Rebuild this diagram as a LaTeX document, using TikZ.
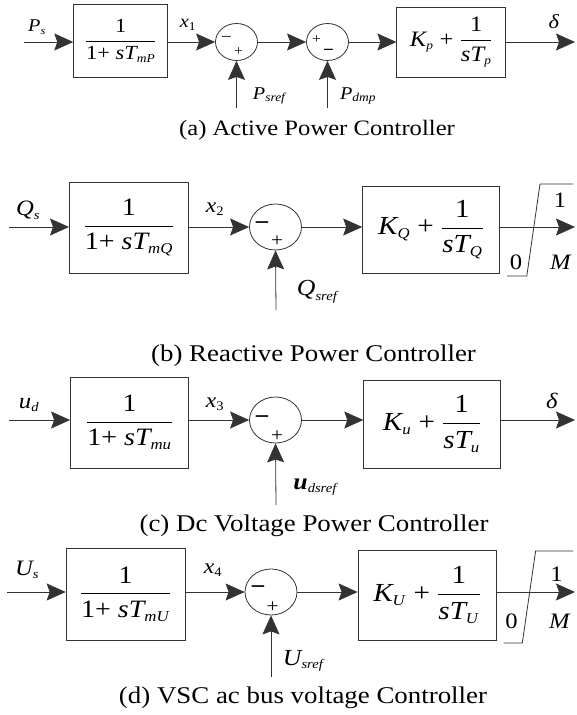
\RequirePackage{fix-cm}
\documentclass[tikz,border=0pt]{standalone}
\usepackage{amsmath}
\usepackage{fontspec}
\setmainfont{Liberation Serif}[FakeStretch=1.12]
\usetikzlibrary{arrows.meta,shapes.geometric}
\newcommand\vi[1]{\textit{#1}}
\newcommand\fs[1]{\fontsize{#1}{#1}\selectfont}
\newcommand\su[2]{_{\mbox{\fs{#1}\textit{#2}}}}
\newcommand\sn[2]{_{\mbox{\fs{#1}#2}}}
\tikzset{
  ln/.style={line width=0.8pt, draw=black!80},
  arr/.style={ln, -{Stealth[length=19pt,width=17pt,inset=3pt]}},
  blk/.style={draw=black!80, line width=0.8pt, rectangle, inner sep=0pt},
  sumc/.style={draw=black!80, line width=0.8pt, ellipse, inner sep=0pt},
  sgn/.style={inner sep=0pt},
  lbl/.style={inner sep=0pt},
}
\begin{document}
\begin{tikzpicture}[x=1pt,y=-1pt]
\useasboundingbox (0,0) rectangle (576,715);

% ---------------- (a) ----------------
\coordinate (ina) at (24,42);
\node[blk, minimum width=94pt, minimum height=73pt] (A1) at (120.7,41)
  {\fs{20}$\dfrac{\text{1}}{\text{1+ }\vi{sT}\su{12}{mP}}$};
\node[sumc, minimum width=42pt, minimum height=37pt] (S1) at (236.5,42) {};
\node[sumc, minimum width=42pt, minimum height=37pt] (S2) at (327.5,42) {};
\node[blk, minimum width=109pt, minimum height=70pt] (A2) at (451.3,42)
  {\fs{22}$\vi{K}\su{12}{p}\text{ + }\dfrac{\text{1}}{\vi{sT}\su{12}{p}}$};
\coordinate (outa) at (575,42);
\coordinate (pa) at (236.5,108);
\coordinate (pb) at (327.5,108);
\draw[arr] (ina) -- (ina -| A1.west);
\draw[arr] (ina -| A1.east) -- (S1.west);
\draw[arr] (S1.east) -- (S2.west);
\draw[arr] (S2.east) -- (S2.east -| A2.west);
\draw[arr] (A2.east |- outa) -- (outa);
\draw[arr] (pa) -- (S1.south);
\draw[arr] (pb) -- (S2.south);
\node[sgn] (S1m) at (226.5,39) {\fs{17}−};
\node[sgn] (S1p) at (238.5,52) {\fs{14}+};
\node[sgn] (S2p) at (316.5,40) {\fs{14}+};
\node[sgn] (S2m) at (328.5,52) {\fs{17}\textbf{−}};
\node[lbl] (lPs) at (37,27) {\fs{18}$\vi{P}\su{11}{s}$};
\node[lbl] (lx1) at (188,25) {\fs{18}$\vi{x}\sn{12}{1}$};
\node[lbl] (lPsref) at (270,96) {\fs{18}$\vi{P}\su{12}{sref}$};
\node[lbl] (lPdmp) at (358,96) {\fs{18}$\vi{P}\su{12}{dmp}$};
\node[lbl] (ld1) at (554,22) {\fs{20}\vi{δ}};
\node (capa) at (317,130) {\fs{22}(a) Active Power Controller};

% ---------------- (b) ----------------
\coordinate (inb) at (9,227);
\node[blk, minimum width=119pt, minimum height=91pt] (B1) at (128.9,227.5)
  {\fs{25}$\dfrac{\text{1}}{\text{1+ }\vi{sT}\su{15}{mQ}}$};
\node[sumc, minimum width=52pt, minimum height=46pt] (S3) at (275.5,227) {};
\node[blk, minimum width=136.6pt, minimum height=87pt] (B2) at (430.9,229.5)
  {\fs{26}$\vi{K}\su{15}{Q}\text{ + }\dfrac{\text{1}}{\vi{sT}\su{15}{Q}}$};
\coordinate (outb) at (575,227);
\coordinate (pc) at (276,310);
\draw[arr] (inb) -- (inb -| B1.west);
\draw[arr] (inb -| B1.east) -- (S3.west);
\draw[arr] (S3.east) -- (S3.east -| B2.west);
\draw[arr] (B2.east |- outb) -- (outb);
\draw[arr] (pc) -- (S3.south);
\draw[ln] (507,276) -- (526.8,276) -- (540,184) -- (573,184);
\node[sgn] (S3m) at (262,226) {\fs{24}\textbf{−}};
\node[sgn] (S3p) at (277,241) {\fs{19}+};
\node[lbl] (lQs) at (28,210) {\fs{22}$\vi{Q}\su{13}{s}$};
\node[lbl] (lx2) at (215,209) {\fs{21}$\vi{x}\sn{13}{2}$};
\node[lbl] (lQsref) at (318,292) {\fs{23}$\vi{Q}\su{13}{sref}$};
\node[lbl] (lb1) at (560,200) {\fs{22}1};
\node[lbl] (lb0) at (516,262) {\fs{22}0};
\node[lbl] (lbM) at (561,262) {\fs{22}\vi{M}};
\node (capb) at (313.5,356) {\fs{24}(b) Reactive Power Controller};

% ---------------- (c) ----------------
\coordinate (inc) at (9,420);
\node[blk, minimum width=118pt, minimum height=91pt] (C1) at (129.5,422.5)
  {\fs{25}$\dfrac{\text{1}}{\text{1+ }\vi{sT}\su{15}{mu}}$};
\node[sumc, minimum width=52pt, minimum height=46pt] (S4) at (275.5,420) {};
\node[blk, minimum width=136.6pt, minimum height=88pt] (C2) at (432,424)
  {\fs{26}$\vi{K}\su{15}{u}\text{ + }\dfrac{\text{1}}{\vi{sT}\su{15}{u}}$};
\coordinate (outc) at (575,420);
\coordinate (pd) at (276,505);
\draw[arr] (inc) -- (inc -| C1.west);
\draw[arr] (inc -| C1.east) -- (S4.west);
\draw[arr] (S4.east) -- (S4.east -| C2.west);
\draw[arr] (C2.east |- outc) -- (outc);
\draw[arr] (pd) -- (S4.south);
\node[sgn] (S4m) at (262,420) {\fs{24}\textbf{−}};
\node[sgn] (S4p) at (277,436) {\fs{19}+};
\node[lbl] (lud) at (29,405) {\fs{22}$\vi{u}\su{13}{d}$};
\node[lbl] (lx3) at (215,404) {\fs{21}$\vi{x}\sn{13}{3}$};
\node[lbl] (ludsref) at (316,487) {\fs{23}$\textbf{\textit{u}}\su{13}{dsref}$};
\node[lbl] (ld2) at (552,401) {\fs{22}\vi{δ}};
\node (capc) at (314,526) {\fs{24}(c) Dc Voltage Power Controller};

% ---------------- (d) ----------------
\coordinate (ind) at (7,592);
\node[blk, minimum width=119pt, minimum height=92pt] (D1) at (125.6,594)
  {\fs{25}$\dfrac{\text{1}}{\text{1+ }\vi{sT}\su{15}{mU}}$};
\node[sumc, minimum width=52pt, minimum height=46pt] (S5) at (271,592) {};
\node[blk, minimum width=138pt, minimum height=90pt] (D2) at (427,595)
  {\fs{26}$\vi{K}\su{15}{U}\text{ + }\dfrac{\text{1}}{\vi{sT}\su{15}{U}}$};
\coordinate (outd) at (575,592);
\coordinate (pe) at (271,677);
\draw[arr] (ind) -- (ind -| D1.west);
\draw[arr] (ind -| D1.east) -- (S5.west);
\draw[arr] (S5.east) -- (S5.east -| D2.west);
\draw[arr] (D2.east |- outd) -- (outd);
\draw[arr] (pe) -- (S5.south);
\draw[ln] (503.6,643) -- (522.3,643) -- (535.6,551) -- (573,551);
\node[sgn] (S5m) at (258,590) {\fs{24}\textbf{−}};
\node[sgn] (S5p) at (272.5,607) {\fs{19}+};
\node[lbl] (lUs) at (27,570) {\fs{22}$\vi{U}\su{13}{s}$};
\node[lbl] (lx4) at (213,570) {\fs{21}$\vi{x}\sn{13}{4}$};
\node[lbl] (lUsref) at (304,661) {\fs{23}$\vi{U}\su{13}{sref}$};
\node[lbl] (ld1b) at (556.5,574) {\fs{22}1};
\node[lbl] (ld0) at (511.5,621) {\fs{22}0};
\node[lbl] (ldM) at (560,621) {\fs{22}\vi{M}};
\node (capd) at (303,698) {\fs{24}(d) VSC ac bus voltage Controller};
\end{tikzpicture}
\end{document}
